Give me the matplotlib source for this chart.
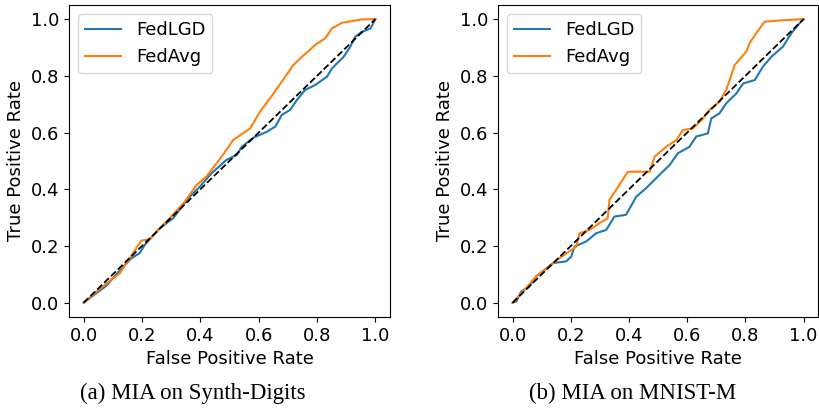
import matplotlib.pyplot as plt
import numpy as np

# ROC points (fpr, tpr)
synth_lgd_fpr = [0.0, 0.078, 0.118, 0.164, 0.192, 0.210, 0.261, 0.307, 0.359, 0.399, 0.439, 0.490, 0.525,
                 0.542, 0.582, 0.628, 0.657, 0.679, 0.708, 0.731, 0.759, 0.794, 0.834, 0.851, 0.891,
                 0.914, 0.931, 0.954, 0.983, 1.0]
synth_lgd_tpr = [0.0, 0.060, 0.107, 0.157, 0.175, 0.204, 0.263, 0.298, 0.369, 0.410, 0.457, 0.504, 0.521,
                 0.550, 0.582, 0.603, 0.621, 0.662, 0.680, 0.715, 0.750, 0.768, 0.797, 0.826, 0.867,
                 0.903, 0.938, 0.955, 0.967, 1.0]
synth_avg_fpr = [0.0, 0.066, 0.124, 0.198, 0.227, 0.255, 0.295, 0.347, 0.387, 0.421, 0.473, 0.513, 0.571,
                 0.605, 0.651, 0.719, 0.748, 0.800, 0.828, 0.851, 0.885, 0.954, 1.0]
synth_avg_tpr = [0.0, 0.058, 0.104, 0.219, 0.224, 0.257, 0.298, 0.357, 0.415, 0.445, 0.515, 0.574, 0.615,
                 0.674, 0.738, 0.838, 0.867, 0.914, 0.932, 0.967, 0.987, 0.999, 1.0]

mnist_lgd_fpr = [0.0, 0.013, 0.030, 0.058, 0.081, 0.110, 0.139, 0.184, 0.202, 0.213, 0.253, 0.287, 0.322,
                 0.350, 0.390, 0.425, 0.459, 0.505, 0.540, 0.568, 0.608, 0.631, 0.671, 0.683, 0.711,
                 0.734, 0.769, 0.792, 0.832, 0.860, 0.889, 0.929, 0.958, 0.975, 1.0]
mnist_lgd_tpr = [0.0, 0.005, 0.040, 0.058, 0.093, 0.116, 0.140, 0.146, 0.163, 0.198, 0.216, 0.245, 0.257,
                 0.304, 0.310, 0.374, 0.404, 0.451, 0.486, 0.527, 0.550, 0.586, 0.597, 0.650, 0.668,
                 0.703, 0.738, 0.773, 0.785, 0.832, 0.867, 0.903, 0.950, 0.973, 1.0]
mnist_avg_fpr = [0.0, 0.036, 0.081, 0.127, 0.161, 0.219, 0.230, 0.265, 0.299, 0.327, 0.333, 0.356, 0.396,
                 0.436, 0.471, 0.488, 0.528, 0.563, 0.585, 0.620, 0.655, 0.677, 0.711, 0.734, 0.746,
                 0.763, 0.803, 0.814, 0.837, 0.866, 0.929, 1.0]
mnist_avg_tpr = [0.0, 0.040, 0.093, 0.128, 0.157, 0.198, 0.245, 0.257, 0.281, 0.298, 0.363, 0.398, 0.462,
                 0.462, 0.462, 0.515, 0.550, 0.574, 0.609, 0.615, 0.650, 0.680, 0.709, 0.750, 0.785,
                 0.838, 0.885, 0.914, 0.950, 0.991, 0.996, 1.0]

captions = ['(a) MIA on Synth-Digits', '(b) MIA on MNIST-M']

plt.rcParams['font.size'] = 13

fig = plt.figure(figsize=(8.19, 4.09), dpi=100)
ax1 = fig.add_axes([0.0842, 0.225, 0.392, 0.763])
ax2 = fig.add_axes([0.608, 0.225, 0.391, 0.763])

panels = [
    (ax1, synth_lgd_fpr, synth_lgd_tpr, synth_avg_fpr, synth_avg_tpr),
    (ax2, mnist_lgd_fpr, mnist_lgd_tpr, mnist_avg_fpr, mnist_avg_tpr),
]

for ax, lf, lt, af, at in panels:
    ax.plot(lf, lt, color='#1f77b4', lw=1.5, label='FedLGD')
    ax.plot(af, at, color='#ff7f0e', lw=1.5, label='FedAvg')
    ax.plot([0, 1], [0, 1], 'k--', lw=1.3)
    ax.set_xlabel('False Positive Rate')
    ax.set_ylabel('True Positive Rate')
    ax.set_xticks(np.arange(0, 1.01, 0.2))
    ax.set_yticks(np.arange(0, 1.01, 0.2))
    ax.legend(loc='upper left')

fig.text(0.235, 0.025, captions[0], ha='center', family='Liberation Serif', fontsize=16.5)
fig.text(0.772, 0.025, captions[1], ha='center', family='Liberation Serif', fontsize=16.5)

plt.savefig('out.png', dpi=100)
plt.close()
